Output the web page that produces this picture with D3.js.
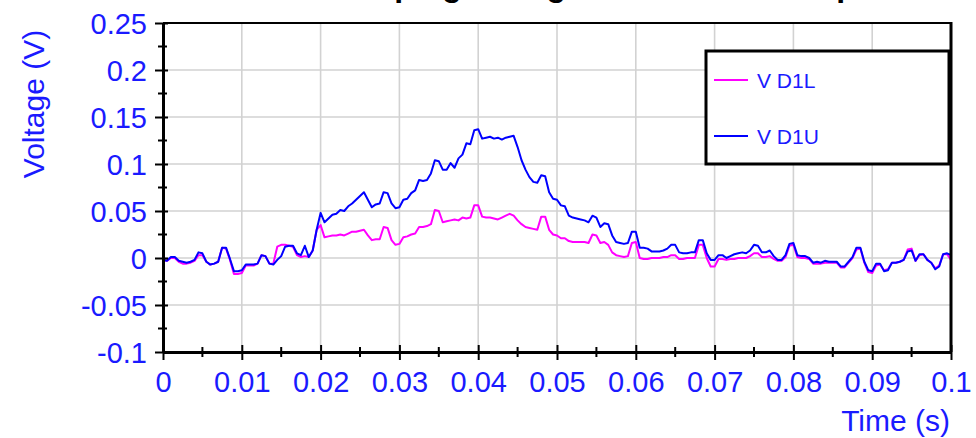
<!DOCTYPE html>
<html>
<head>
<meta charset="utf-8">
<script src="https://cdn.jsdelivr.net/npm/d3@7"></script>
<style>
  html, body { margin: 0; padding: 0; background: #ffffff; }
  svg { display: block; }
  text { font-family: "Liberation Sans", Arial, sans-serif; }
</style>
</head>
<body>
<svg id="chart" width="976" height="438"></svg>
<script>
// Diode clamp voltages sampled every 0.5 ms over 0..0.1 s
const sampleStep = 0.0005;

const vD1L = [
  -0.002, -0.003, 0.000, 0.000, -0.004, -0.006, -0.006, -0.005, -0.003, 0.003,
  0.003, -0.004, -0.007, -0.006, -0.004, 0.011, 0.010, -0.002, -0.017, -0.017,
  -0.016, -0.008, -0.008, -0.008, -0.006, 0.003, 0.002, -0.006, -0.006, 0.012,
  0.014, 0.014, 0.013, 0.012, 0.003, 0.001, 0.002, 0.001, 0.008, 0.030,
  0.035, 0.022, 0.023, 0.024, 0.024, 0.025, 0.024, 0.026, 0.028, 0.028,
  0.029, 0.030, 0.024, 0.019, 0.020, 0.020, 0.033, 0.032, 0.019, 0.014,
  0.015, 0.022, 0.023, 0.025, 0.026, 0.033, 0.033, 0.034, 0.036, 0.051,
  0.050, 0.038, 0.039, 0.040, 0.041, 0.040, 0.043, 0.042, 0.043, 0.056,
  0.056, 0.044, 0.043, 0.043, 0.042, 0.041, 0.043, 0.045, 0.047, 0.045,
  0.040, 0.036, 0.033, 0.032, 0.031, 0.030, 0.044, 0.044, 0.030, 0.025,
  0.024, 0.021, 0.021, 0.018, 0.017, 0.017, 0.017, 0.017, 0.016, 0.025,
  0.024, 0.016, 0.017, 0.014, 0.006, 0.003, 0.002, 0.001, 0.002, 0.016,
  0.017, 0.000, -0.001, -0.001, 0.000, 0.000, 0.000, 0.001, 0.001, 0.003,
  0.003, -0.001, -0.001, 0.000, 0.000, 0.000, 0.014, 0.014, 0.000, -0.009,
  -0.009, -0.001, -0.001, -0.002, -0.001, -0.001, 0.000, 0.000, 0.000, 0.002,
  0.005, 0.005, 0.001, 0.001, 0.002, -0.001, -0.003, -0.003, 0.001, 0.013,
  0.014, 0.001, 0.000, 0.000, -0.001, -0.006, -0.006, -0.006, -0.005, -0.005,
  -0.005, -0.005, -0.010, -0.010, -0.005, 0.000, 0.009, 0.010, -0.005, -0.015,
  -0.016, -0.008, -0.007, -0.013, -0.012, -0.005, -0.005, -0.004, -0.002, 0.009,
  0.010, -0.003, 0.003, 0.004, -0.002, -0.005, -0.011, -0.008, 0.004, 0.004,
  -0.002
];

const vD1U = [
  -0.002, -0.003, 0.001, 0.001, -0.003, -0.004, -0.005, -0.004, -0.002, 0.006,
  0.005, -0.004, -0.007, -0.006, -0.004, 0.011, 0.011, -0.001, -0.014, -0.014,
  -0.013, -0.007, -0.007, -0.007, -0.006, 0.003, 0.002, -0.006, -0.007, -0.002,
  0.002, 0.012, 0.013, 0.013, 0.005, 0.003, 0.013, 0.001, 0.008, 0.030,
  0.048, 0.038, 0.042, 0.046, 0.047, 0.051, 0.050, 0.055, 0.058, 0.062,
  0.066, 0.070, 0.062, 0.054, 0.057, 0.058, 0.070, 0.069, 0.058, 0.053,
  0.054, 0.062, 0.063, 0.069, 0.072, 0.083, 0.082, 0.083, 0.090, 0.104,
  0.103, 0.094, 0.094, 0.101, 0.096, 0.106, 0.110, 0.122, 0.121, 0.136,
  0.137, 0.127, 0.128, 0.129, 0.127, 0.128, 0.126, 0.128, 0.129, 0.130,
  0.118, 0.104, 0.094, 0.086, 0.081, 0.080, 0.088, 0.087, 0.070, 0.063,
  0.062, 0.056, 0.055, 0.045, 0.043, 0.042, 0.041, 0.040, 0.038, 0.045,
  0.043, 0.033, 0.037, 0.036, 0.024, 0.017, 0.016, 0.015, 0.016, 0.028,
  0.028, 0.011, 0.011, 0.010, 0.007, 0.007, 0.007, 0.008, 0.010, 0.014,
  0.014, 0.006, 0.005, 0.005, 0.006, 0.006, 0.019, 0.019, 0.005, -0.002,
  -0.002, 0.003, 0.003, 0.000, 0.002, 0.004, 0.005, 0.006, 0.005, 0.008,
  0.014, 0.013, 0.006, 0.006, 0.008, 0.002, -0.002, -0.002, 0.003, 0.015,
  0.016, 0.003, 0.002, 0.002, 0.000, -0.005, -0.004, -0.005, -0.003, -0.004,
  -0.004, -0.004, -0.009, -0.009, -0.004, 0.001, 0.011, 0.011, -0.004, -0.013,
  -0.014, -0.006, -0.006, -0.014, -0.013, -0.005, -0.005, -0.004, -0.002, 0.007,
  0.008, -0.003, 0.004, 0.004, -0.002, -0.005, -0.012, -0.009, 0.004, 0.005,
  0.003
];

const xTicks = [0, 0.01, 0.02, 0.03, 0.04, 0.05, 0.06, 0.07, 0.08, 0.09, 0.1];
const xTickLabels = ["0", "0.01", "0.02", "0.03", "0.04", "0.05", "0.06", "0.07", "0.08", "0.09", "0.1"];
const yTicks = [0.25, 0.2, 0.15, 0.1, 0.05, 0, -0.05, -0.1];
const yTickLabels = ["0.25", "0.2", "0.15", "0.1", "0.05", "0", "-0.05", "-0.1"];
const seriesNames = ["V D1L", "V D1U"];
const seriesColors = ["#ff00ff", "#0000ff"];

const titleText = "Clamping Voltage Simulation Comparison";
const xTitle = "Time (s)";
const yTitle = "Voltage (V)";

const textBlue = "#1a1aff";

const svg = d3.select("#chart");
const plot = { left: 163, right: 951, top: 23, bottom: 352 };

const x = d3.scaleLinear().domain([0, 0.1]).range([plot.left, plot.right]);
const y = d3.scaleLinear().domain([-0.1, 0.25]).range([plot.bottom, plot.top]);

// Title (sits mostly above the visible area)
svg.append("text")
  .attr("x", 316).attr("y", -4)
  .attr("font-size", 32).attr("font-weight", "bold")
  .attr("fill", "#000")
  .text(titleText);

// Grid
const grid = svg.append("g").attr("stroke", "#d2d2d2").attr("stroke-width", 1.6);
grid.selectAll("line.v").data(xTicks.slice(1, -1)).join("line")
  .attr("x1", d => x(d)).attr("x2", d => x(d))
  .attr("y1", plot.top).attr("y2", plot.bottom);
grid.selectAll("line.h").data(yTicks.slice(1, -1)).join("line")
  .attr("x1", plot.left).attr("x2", plot.right)
  .attr("y1", d => y(d)).attr("y2", d => y(d));

// Data lines
svg.append("defs").append("clipPath").attr("id", "plotClip")
  .append("rect")
  .attr("x", plot.left).attr("y", plot.top)
  .attr("width", plot.right - plot.left).attr("height", plot.bottom - plot.top);

const line = d3.line()
  .x((d, i) => x(i * sampleStep))
  .y(d => y(d));

const lines = svg.append("g").attr("clip-path", "url(#plotClip)");
[vD1L, vD1U].forEach((vals, k) => {
  lines.append("path")
    .datum(vals)
    .attr("fill", "none")
    .attr("stroke", seriesColors[k])
    .attr("stroke-width", 2)
    .attr("stroke-linejoin", "round")
    .attr("d", line);
});

// Frame: top and right borders
svg.append("line")
  .attr("x1", plot.left).attr("x2", plot.right)
  .attr("y1", plot.top).attr("y2", plot.top)
  .attr("stroke", "#000").attr("stroke-width", 2);
svg.append("line")
  .attr("x1", plot.right).attr("x2", plot.right)
  .attr("y1", plot.top - 1).attr("y2", plot.bottom)
  .attr("stroke", "#000").attr("stroke-width", 3);

// Y axis
const yAxis = d3.axisLeft(y)
  .tickValues(yTicks)
  .tickFormat((d, i) => yTickLabels[i])
  .tickSizeInner(8).tickSizeOuter(0).tickPadding(7);
const yG = svg.append("g").attr("transform", `translate(${plot.left},0)`).call(yAxis);
yG.select(".domain").attr("stroke", "#000").attr("stroke-width", 3);
yG.selectAll(".tick line").attr("stroke", "#000").attr("stroke-width", 2).attr("x2", -8).attr("x1", 5);
yG.selectAll(".tick text")
  .attr("font-size", 29).attr("fill", textBlue)
  .attr("font-family", "'Liberation Sans', Arial, sans-serif")
  .attr("x", -16).attr("dy", "0.36em");

// Y minor ticks
const yMinor = d3.range(0, 7).map(i => yTicks[i] - 0.025);
svg.append("g").selectAll("line").data(yMinor).join("line")
  .attr("x1", plot.left - 5).attr("x2", plot.left + 4)
  .attr("y1", d => y(d)).attr("y2", d => y(d))
  .attr("stroke", "#000").attr("stroke-width", 2);

// X axis
const xAxis = d3.axisBottom(x)
  .tickValues(xTicks)
  .tickFormat((d, i) => xTickLabels[i])
  .tickSizeInner(8).tickSizeOuter(0).tickPadding(12);
const xG = svg.append("g").attr("transform", `translate(0,${plot.bottom})`).call(xAxis);
xG.select(".domain").attr("stroke", "#000").attr("stroke-width", 3);
xG.selectAll(".tick line").attr("stroke", "#000").attr("stroke-width", 2).attr("y1", -7).attr("y2", 8);
xG.selectAll(".tick text")
  .attr("font-size", 29).attr("fill", textBlue)
  .attr("font-family", "'Liberation Sans', Arial, sans-serif")
  .attr("y", 19).attr("dy", "0.71em");

// X minor ticks
const xMinor = xTicks.slice(0, -1).map(d => d + 0.005);
svg.append("g").selectAll("line").data(xMinor).join("line")
  .attr("x1", d => x(d)).attr("x2", d => x(d))
  .attr("y1", plot.bottom - 5).attr("y2", plot.bottom + 5)
  .attr("stroke", "#000").attr("stroke-width", 2);

// Axis titles
svg.append("text")
  .attr("transform", "translate(44,104) rotate(-90)")
  .attr("text-anchor", "middle")
  .attr("font-size", 30).attr("fill", textBlue)
  .text(yTitle);
svg.append("text")
  .attr("x", 950).attr("y", 431)
  .attr("text-anchor", "end")
  .attr("font-size", 30).attr("fill", textBlue)
  .text(xTitle);

// Legend
const legend = svg.append("g");
legend.append("rect")
  .attr("x", 706).attr("y", 51).attr("width", 243).attr("height", 113)
  .attr("fill", "#fff").attr("stroke", "#000").attr("stroke-width", 3);
const legendY = [80, 136];
seriesNames.forEach((name, k) => {
  legend.append("line")
    .attr("x1", 714).attr("x2", 748)
    .attr("y1", legendY[k]).attr("y2", legendY[k])
    .attr("stroke", seriesColors[k]).attr("stroke-width", 2);
  legend.append("text")
    .attr("x", 757).attr("y", legendY[k] + 8)
    .attr("font-size", 21).attr("fill", textBlue)
    .text(name);
});
</script>
</body>
</html>
